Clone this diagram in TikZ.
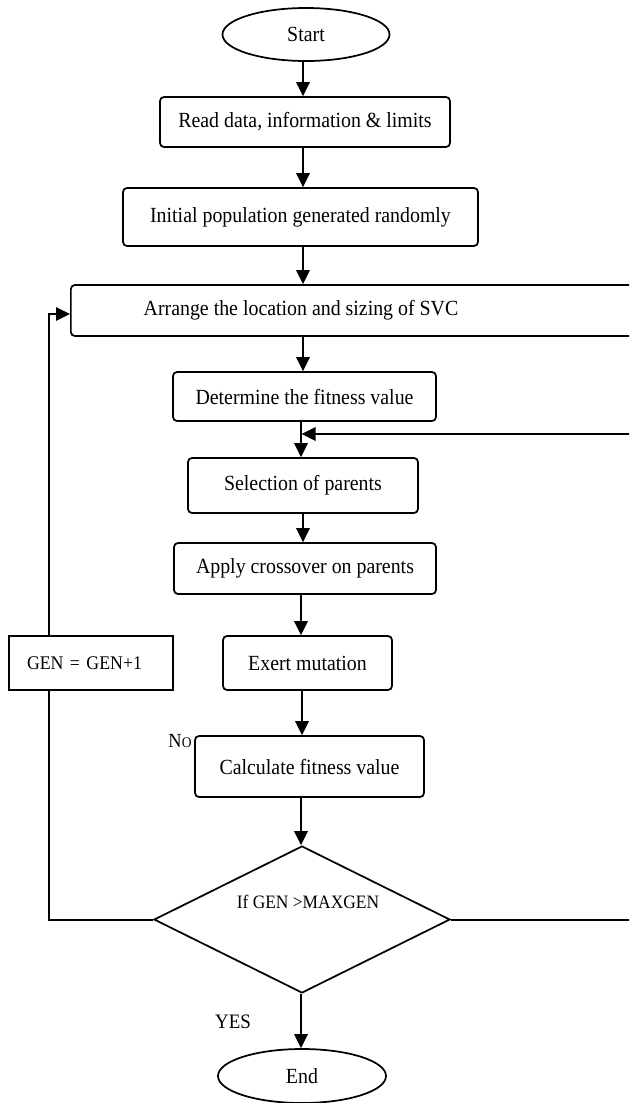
\documentclass[tikz,border=0pt]{standalone}
\usepackage{fontspec}
\setmainfont{Liberation Serif}
\newfontfamily\tallserif[FakeStretch=0.92]{Liberation Serif}
\usetikzlibrary{shapes.geometric,arrows.meta}
\begin{document}
\begin{tikzpicture}[x=0.75pt,y=-0.75pt,
  txt/.style={font=\tallserif\fontsize{16.2}{19}\selectfont},
  box/.style={draw, rounded corners=3pt, line width=1.3pt, inner sep=0pt, txt},
  term/.style={draw, ellipse, line width=1.3pt, inner sep=0pt, txt},
  conn/.style={line width=1.5pt},
  arr/.style={conn, -{Triangle[width=10pt,length=10.5pt]}}]
\useasboundingbox (0,0) rectangle (629,1103);
\clip (0,0) rectangle (629,1103);
% nodes
\node[term, minimum width=125.25pt, minimum height=39.75pt] (start) at (306,34.5) {Start};
\node[box, minimum width=217.5pt, minimum height=37.5pt] (read) at (305,122) {Read data, information \& limits};
\node[box, minimum width=266.25pt, minimum height=43.5pt] (init) at (300.5,217) {Initial population generated randomly};
\node[box, anchor=west, minimum width=442.5pt, minimum height=38.25pt] (arrange) at (70,310.5) {};
\node[txt] (arrtext) at (301,310.5) {Arrange the location and sizing of SVC};
\node[box, minimum width=197.25pt, minimum height=36.75pt] (det) at (304.5,396.5) {Determine the fitness value};
\node[box, minimum width=172.5pt, minimum height=41.25pt] (sel) at (303,485.5) {Selection of parents};
\node[box, minimum width=196.5pt, minimum height=38.25pt] (app) at (305,568.5) {Apply crossover on parents};
\node[box, minimum width=126.75pt, minimum height=40.5pt] (mut) at (307.5,663) {Exert mutation};
\node[draw, line width=1.3pt, inner xsep=13.5pt, inner ysep=0pt, text width=96pt, align=left,
      minimum height=40.5pt, font=\tallserif\fontsize{14.5}{17}\selectfont] (gen) at (91,663) {GEN = GEN+1};
\node[box, minimum width=171.75pt, minimum height=45.75pt] (calc) at (309.5,766.5) {Calculate fitness value};
\node[draw, diamond, aspect=2, line width=1.3pt, inner sep=0pt, minimum width=222pt, minimum height=110.25pt] (dec) at (302,919.5) {};
\node[font=\tallserif\fontsize{14.2}{17}\selectfont] (dectext) at (308,902) {If GEN >MAXGEN};
\node[term, minimum width=126pt, minimum height=40.5pt] (end) at (302,1076) {End};
\node[font=\tallserif\fontsize{15}{17}\selectfont] (no) at (180,741) {N{\fontsize{11}{12}\selectfont O}};
\node[font=\tallserif\fontsize{15.4}{18}\selectfont] (yes) at (233,1022) {YES};
% helper coordinates
\coordinate (c303) at (303,0);
\coordinate (c301) at (301,0);
\coordinate (c302) at (302,0);
\coordinate (lx) at (49,0);
\coordinate (rx) at (640,0);
\coordinate (ain) at (70,314);
\coordinate (jn) at (301.5,434);
% main flow
\draw[arr] (start.south -| c303) -- (read.north -| c303);
\draw[arr] (read.south -| c303) -- (init.north -| c303);
\draw[arr] (init.south -| c303) -- (arrange.north -| c303);
\draw[arr] (arrange.south -| c303) -- (det.north -| c303);
\draw[arr] (det.south -| c301) -- (sel.north -| c301);
\draw[arr] (sel.south -| c303) -- (app.north -| c303);
\draw[arr] (app.south -| c301) -- (mut.north -| c301);
\draw[arr] (mut.south -| c302) -- (calc.north -| c302);
\draw[arr] (calc.south -| c301) -- (dec.north -| c301);
\draw[arr] (dec.south -| c301) -- (end.north -| c301);
% loops
\draw[conn] (dec.west) -- (dec.west -| lx) -- (gen.south -| lx);
\draw[arr] (gen.north -| lx) -- (lx |- ain) -- (ain);
\draw[arr] (dec.east) -- (dec.east -| rx) -- (rx |- jn) -- (jn);
\end{tikzpicture}
\end{document}
